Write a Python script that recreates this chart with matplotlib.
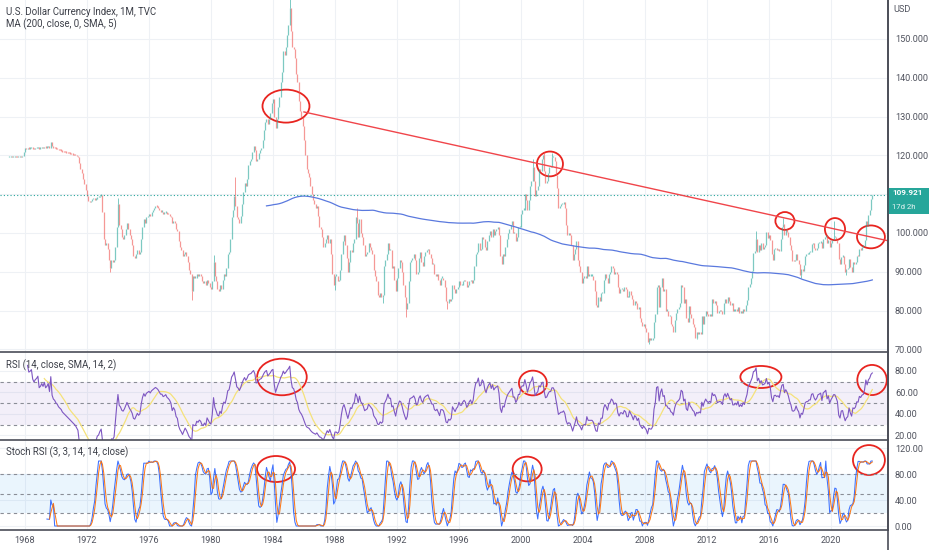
# coding: utf-8
# U.S. Dollar Currency Index (DXY) monthly chart with MA200, RSI and Stoch RSI panels
import numpy as np
import pandas as pd
import matplotlib
matplotlib.use("Agg")
import matplotlib.pyplot as plt
from matplotlib.patches import Ellipse, Rectangle
from matplotlib.ticker import StrMethodFormatter

plt.rcParams['font.family'] = ['Roboto', 'DejaVu Sans']

# ================= data =================
START_YEAR = 1967  # first candle: Jan 1967, one close per month
CLOSES = [
    119.6, 119.6, 119.5, 119.6, 119.7, 119.6, 119.5, 119.6, 119.7, 119.6, 119.8, 121.0,  # 1967
    121.8, 121.6, 121.9, 121.7, 121.8, 122.0, 121.7, 121.6, 121.8, 121.9, 122.1, 121.7,  # 1968
    121.8, 122.0, 121.9, 122.2, 122.0, 122.1, 122.3, 122.0, 123.4, 122.3, 122.0, 121.9,  # 1969
    121.7, 121.6, 121.4, 121.3, 121.2, 121.0, 120.9, 120.8, 120.7, 120.6, 120.5, 120.4,  # 1970
    120.3, 120.2, 120.1, 120.0, 119.8, 119.6, 118.0, 116.5, 115.5, 114.0, 112.5, 111.0,  # 1971
    109.5, 108.2, 108.0, 108.3, 108.7, 109.0, 108.6, 108.8, 109.2, 109.3, 109.6, 109.8,  # 1972
    105.5, 98.5, 97.0, 97.5, 96.0, 93.0, 91.0, 93.0, 92.5, 93.0, 96.5, 101.5,  # 1973
    107.5, 102.0, 101.0, 99.0, 98.5, 99.5, 101.0, 102.5, 101.0, 99.5, 98.5, 97.0,  # 1974
    94.0, 93.5, 94.5, 95.5, 94.5, 95.0, 98.5, 101.5, 103.5, 102.5, 104.0, 104.5,  # 1975
    105.0, 104.5, 105.5, 106.0, 106.5, 107.0, 106.8, 106.5, 106.0, 105.5, 105.5, 105.0,  # 1976
    105.2, 105.5, 105.0, 104.8, 104.5, 104.0, 102.5, 103.0, 102.5, 101.0, 100.5, 98.0,  # 1977
    96.5, 95.5, 94.0, 94.5, 95.0, 94.0, 92.5, 90.5, 89.5, 85.0, 89.0, 88.5,  # 1978
    88.5, 89.5, 89.0, 89.5, 89.0, 87.5, 87.0, 87.5, 86.5, 88.0, 87.0, 86.0,  # 1979
    85.5, 87.5, 92.5, 89.0, 87.5, 85.5, 85.0, 86.5, 85.5, 88.0, 89.5, 89.0,  # 1980
    91.0, 94.5, 95.0, 98.5, 104.0, 106.0, 109.5, 107.0, 104.0, 103.5, 102.5, 104.5,  # 1981
    107.5, 110.5, 113.0, 112.0, 114.0, 117.5, 118.5, 119.0, 121.0, 122.5, 121.5, 118.5,  # 1982
    119.0, 120.5, 121.5, 122.0, 124.0, 126.5, 128.5, 129.5, 128.0, 129.5, 131.0, 133.5,  # 1983
    134.5, 130.0, 127.0, 129.5, 132.5, 135.0, 139.0, 141.5, 147.0, 146.0, 148.0, 151.0,  # 1984
    153.5, 158.0, 152.0, 148.0, 147.5, 145.0, 141.0, 139.0, 134.0, 131.5, 130.0, 127.5,  # 1985
    124.0, 120.0, 116.5, 115.5, 114.5, 112.0, 110.0, 108.5, 107.5, 106.5, 107.0, 104.5,  # 1986
    101.5, 101.0, 99.0, 96.5, 97.5, 98.5, 99.5, 97.5, 98.5, 94.5, 89.5, 86.5,  # 1987
    89.0, 89.0, 87.5, 88.0, 90.5, 94.5, 98.0, 99.5, 97.0, 93.5, 90.0, 92.5,  # 1988
    95.5, 95.0, 97.5, 98.5, 104.0, 102.5, 99.0, 103.5, 100.0, 99.0, 97.0, 94.0,  # 1989
    94.5, 95.0, 97.5, 96.5, 95.5, 94.5, 90.5, 89.0, 87.5, 84.0, 83.5, 84.5,  # 1990
    83.5, 84.0, 91.5, 93.0, 94.5, 97.5, 95.5, 95.5, 91.0, 91.5, 88.0, 85.0,  # 1991
    88.5, 91.0, 93.0, 92.5, 90.0, 86.5, 83.5, 80.5, 82.0, 87.5, 92.5, 93.0,  # 1992
    93.5, 94.5, 93.0, 89.5, 90.0, 93.5, 95.0, 92.5, 91.5, 94.0, 95.0, 95.5,  # 1993
    96.0, 94.5, 93.5, 92.0, 92.0, 89.5, 89.0, 89.5, 88.0, 86.5, 88.5, 88.5,  # 1994
    88.0, 86.0, 82.5, 82.0, 83.0, 82.5, 83.0, 86.5, 85.5, 84.5, 85.5, 86.0,  # 1995
    87.5, 86.5, 86.5, 87.5, 88.0, 87.5, 86.0, 86.5, 87.5, 88.0, 87.0, 88.0,  # 1996
    91.5, 94.5, 95.0, 97.5, 95.5, 96.0, 99.0, 98.5, 96.5, 95.5, 98.0, 99.5,  # 1997
    100.5, 99.0, 101.0, 99.5, 100.5, 101.0, 101.5, 99.5, 94.0, 92.0, 94.5, 94.0,  # 1998
    96.5, 98.5, 100.0, 101.0, 102.0, 103.0, 100.0, 100.0, 98.0, 99.0, 101.5, 101.5,  # 1999
    105.0, 106.0, 106.0, 110.0, 108.5, 106.0, 108.5, 112.0, 113.5, 117.0, 113.5, 109.5,  # 2000
    111.0, 112.0, 116.5, 116.0, 119.0, 120.0, 116.0, 113.0, 113.5, 115.5, 117.0, 117.0,  # 2001
    119.5, 119.5, 118.5, 115.0, 111.5, 106.5, 107.0, 107.5, 107.5, 108.0, 106.5, 102.0,  # 2002
    99.5, 100.0, 99.5, 97.0, 93.0, 94.5, 96.0, 98.0, 93.0, 91.5, 90.0, 87.0,  # 2003
    88.5, 89.0, 88.5, 91.5, 89.0, 89.0, 89.0, 89.0, 88.0, 85.0, 81.5, 81.0,  # 2004
    83.5, 82.5, 84.5, 84.5, 88.0, 89.5, 88.5, 87.0, 89.5, 90.0, 91.5, 91.0,  # 2005
    89.5, 90.0, 89.5, 86.0, 84.5, 85.5, 85.5, 85.0, 86.0, 85.5, 83.5, 83.5,  # 2006
    85.0, 84.0, 83.0, 81.5, 82.5, 82.0, 80.5, 81.0, 78.0, 77.0, 76.0, 76.5,  # 2007
    75.5, 74.5, 71.8, 73.0, 72.5, 72.5, 73.0, 77.0, 79.0, 86.0, 86.5, 81.0,  # 2008
    86.0, 88.5, 85.0, 85.5, 80.0, 80.0, 78.5, 78.5, 76.5, 76.0, 74.5, 77.5,  # 2009
    79.5, 80.5, 81.0, 82.0, 86.5, 86.0, 82.0, 83.0, 78.0, 77.0, 81.2, 79.0,  # 2010
    78.0, 76.5, 75.8, 73.0, 74.5, 74.0, 74.5, 74.0, 78.5, 76.5, 78.5, 80.0,  # 2011
    79.0, 78.5, 79.0, 78.5, 83.0, 82.0, 82.5, 81.5, 79.5, 79.8, 80.0, 79.8,  # 2012
    79.0, 82.0, 83.0, 82.0, 83.5, 82.5, 81.5, 82.0, 80.0, 80.0, 80.5, 80.0,  # 2013
    81.0, 79.5, 80.0, 79.5, 80.5, 80.0, 81.5, 82.8, 86.0, 86.8, 88.4, 90.3,  # 2014
    94.8, 95.3, 98.4, 95.0, 97.0, 95.5, 97.3, 96.0, 96.3, 97.0, 100.2, 98.6,  # 2015
    99.6, 98.2, 94.6, 93.0, 95.9, 96.1, 95.6, 96.0, 95.4, 98.5, 101.5, 102.2,  # 2016
    99.5, 101.1, 100.3, 99.0, 97.0, 95.6, 92.9, 92.7, 93.1, 94.5, 93.0, 92.1,  # 2017
    89.1, 90.6, 90.1, 91.8, 94.0, 94.5, 94.5, 95.1, 95.1, 97.1, 97.3, 96.2,  # 2018
    95.6, 96.2, 97.3, 97.5, 97.8, 96.1, 98.5, 98.9, 99.4, 97.4, 98.3, 96.4,  # 2019
    97.4, 98.1, 99.0, 99.0, 98.3, 97.4, 93.3, 92.1, 93.9, 94.0, 91.9, 89.9,  # 2020
    90.6, 90.9, 93.2, 91.3, 90.0, 92.4, 92.1, 92.6, 94.2, 94.1, 96.0, 95.7,  # 2021
    96.5, 96.7, 98.3, 103.0, 101.8, 104.7, 105.9, 108.7, 109.9,  # 2022
]
# visible wick extremes (year, month, price)
WICK_HIGHS = [(1974, 1, 109.0), (1980, 3, 94.3), (1981, 8, 114.5), (1985, 2, 165.0),
              (1989, 6, 106.5), (2000, 10, 119.0), (2001, 7, 121.0), (2002, 1, 120.5),
              (2015, 3, 100.4), (2016, 12, 103.8), (2020, 3, 103.0)]
WICK_LOWS = [(1973, 7, 90.0), (1978, 10, 82.7), (1988, 1, 85.3), (1991, 2, 82.0),
             (1992, 8, 78.4), (1995, 4, 80.3), (2008, 4, 71.3), (2011, 5, 72.7),
             (2018, 2, 88.3), (2021, 1, 89.2)]
LAST_PRICE = 109.921
COUNTDOWN = "17d 2h"
TICK_YEARS = list(range(1968, 2021, 4))
PRICE_TICKS = list(range(70, 151, 10))
RSI_TICKS = [20, 40, 60, 80]
STOCH_TICKS = [0, 40, 80, 120]

# ================= indicators =================
close = np.array(CLOSES)
t = START_YEAR + np.arange(len(close)) / 12.0
openp = np.r_[close[0], close[:-1]]
s = pd.Series(close)

ma200 = s.rolling(200).mean()

delta = s.diff()
gain = delta.clip(lower=0).ewm(alpha=1 / 14, adjust=False).mean()
loss = (-delta.clip(upper=0)).ewm(alpha=1 / 14, adjust=False).mean()
rsi = 100 - 100 / (1 + gain / loss)
rsi.iloc[:14] = np.nan
rsi_ma = rsi.rolling(14).mean()

rsi_lo = rsi.rolling(14).min()
rsi_hi = rsi.rolling(14).max()
stoch = 100 * (rsi - rsi_lo) / (rsi_hi - rsi_lo)
k_line = stoch.rolling(3).mean()
d_line = k_line.rolling(3).mean()

# ================= figure =================
W, H = 932, 550
fig = plt.figure(figsize=(W / 100, H / 100), dpi=100)
fig.patch.set_facecolor('white')


def panel(top, bottom, **kw):
    return fig.add_axes([0, 1 - bottom / H, 888 / W, (bottom - top) / H], **kw)


ax = panel(0, 352)
ax_rsi = panel(353, 440, sharex=ax)
ax_st = panel(441, 530, sharex=ax)

TXT = '#50535e'
GRID = '#eef1f5'
EDGE = '#4a4d57'
UP, DOWN = '#26a69a', '#ef5350'

for a in (ax, ax_rsi, ax_st):
    a.set_facecolor('white')
    for side in ('top', 'left'):
        a.spines[side].set_visible(False)
    for side in ('right', 'bottom'):
        a.spines[side].set_color(EDGE)
        a.spines[side].set_linewidth(1.2)
    a.yaxis.tick_right()
    a.tick_params(axis='y', length=0, pad=5, labelsize=6.6, labelcolor=TXT)
    a.tick_params(axis='x', length=0, labelbottom=False)
    a.grid(True, color=GRID, lw=0.8)
    a.set_axisbelow(True)

ax.set_xlim(1966.39, 2023.68)
ax.set_xticks(TICK_YEARS)

# ---- price panel ----
body_lo = np.minimum(openp, close)
body_hi = np.maximum(np.maximum(openp, close), body_lo + 0.35)
up = close >= openp
CANDLE_ALPHA = 0.6
ax.vlines(t[up], body_lo[up], body_hi[up], color=UP, lw=0.9, alpha=CANDLE_ALPHA)
ax.vlines(t[~up], body_lo[~up], body_hi[~up], color=DOWN, lw=0.9, alpha=CANDLE_ALPHA)
for yr, mo, val in WICK_HIGHS:
    i = (yr - START_YEAR) * 12 + mo - 1
    ax.vlines(t[i], body_hi[i], val, color=UP if up[i] else DOWN, lw=0.7, alpha=CANDLE_ALPHA)
for yr, mo, val in WICK_LOWS:
    i = (yr - START_YEAR) * 12 + mo - 1
    ax.vlines(t[i], val, body_lo[i], color=UP if up[i] else DOWN, lw=0.7, alpha=CANDLE_ALPHA)

ax.plot(t, ma200, color='#5a79de', lw=0.9)
ax.axhline(LAST_PRICE, color=UP, ls=(0, (1, 2)), lw=0.8)

ax.set_ylim(69.33, 160.05)
ax.set_yticks(PRICE_TICKS)
ax.yaxis.set_major_formatter(StrMethodFormatter('{x:.3f}'))

# hand drawn trend line and circles
RED = '#e8241f'
ax.plot([1986.0, 2023.68], [131.2, 98.0], color='#f0454a', lw=1.0)
for cx, cy, w, h in [(1984.84, 132.7, 3.03, 8.5), (2001.87, 117.8, 1.68, 6.4),
                     (2017.03, 103.1, 1.23, 4.6), (2020.26, 101.0, 1.3, 5.7),
                     (2022.58, 99.0, 1.8, 5.9)]:
    ax.add_patch(Ellipse((cx, cy), w, h, fill=False, ec=RED, lw=1.3, clip_on=False))

# last price badge with bar countdown
ytr = ax.get_yaxis_transform()
ax.add_patch(Rectangle((0.999, 105.0), 0.047, 6.6, transform=ytr, fc=UP, ec='none',
                       clip_on=False, zorder=5))
ax.text(1.005, LAST_PRICE + 0.6, f"{LAST_PRICE:.3f}", transform=ytr, ha='left',
        va='center', color='white', fontsize=5.9, fontweight='bold', zorder=6)
ax.text(1.005, LAST_PRICE - 3.2, COUNTDOWN, transform=ytr, ha='left', va='center',
        color='#e6f5f3', fontsize=5.6, zorder=6)
fig.text(893 / W, 1 - 10 / H, "USD", ha='left', va='center', fontsize=6.6, color=TXT)

ax.text(0.007, 0.966, "U.S. Dollar Currency Index, 1M, TVC", transform=ax.transAxes,
        ha='left', va='center', fontsize=6.9, color='#3c3f48')
ax.text(0.007, 0.932, "MA (200, close, 0, SMA, 5)", transform=ax.transAxes,
        ha='left', va='center', fontsize=6.9, color='#3c3f48')

# ---- RSI panel ----
ax_rsi.axhspan(30, 70, color='#7e57c2', alpha=0.09, lw=0)
for lvl in (70, 50, 30):
    ax_rsi.axhline(lvl, color='#8a8d96', ls=(0, (3, 3)), lw=0.8)
ax_rsi.plot(t, rsi_ma, color='#f5e27a', lw=0.9)
ax_rsi.plot(t, rsi, color='#7e57c2', lw=0.8)
ax_rsi.set_ylim(15.8, 96.7)
ax_rsi.set_yticks(RSI_TICKS)
ax_rsi.yaxis.set_major_formatter(StrMethodFormatter('{x:.2f}'))
ax_rsi.text(0.007, 0.862, "RSI (14, close, SMA, 14, 2)", transform=ax_rsi.transAxes,
            ha='left', va='center', fontsize=6.9, color='#3c3f48')
for cx, cy, w, h in [(1984.58, 74.4, 3.2, 34), (2000.77, 68.8, 1.8, 23),
                     (2015.48, 74.4, 2.65, 20.5), (2022.65, 71.6, 1.9, 28)]:
    ax_rsi.add_patch(Ellipse((cx, cy), w, h, fill=False, ec=RED, lw=1.3, clip_on=False))

# ---- Stoch RSI panel ----
ax_st.axhspan(20, 80, color='#2196f3', alpha=0.09, lw=0)
for lvl in (80, 50, 20):
    ax_st.axhline(lvl, color='#8a8d96', ls=(0, (3, 3)), lw=0.8)
ax_st.plot(t, k_line, color='#2962ff', lw=0.75, alpha=0.9)
ax_st.plot(t, d_line, color='#ff6d00', lw=0.75, alpha=0.9)
ax_st.set_ylim(-6.15, 130.8)
ax_st.set_yticks(STOCH_TICKS)
ax_st.yaxis.set_major_formatter(StrMethodFormatter('{x:.2f}'))
ax_st.text(0.007, 0.869, "Stoch RSI (3, 3, 14, 14, close)", transform=ax_st.transAxes,
           ha='left', va='center', fontsize=6.9, color='#3c3f48')
for cx, cy, w, h in [(1984.2, 87.7, 2.45, 40), (2000.4, 87.7, 1.87, 38),
                     (2022.45, 101.5, 2.06, 46)]:
    ax_st.add_patch(Ellipse((cx, cy), w, h, fill=False, ec=RED, lw=1.3, clip_on=False))

ax_st.tick_params(axis='x', labelbottom=True, pad=4, labelsize=6.6, labelcolor=TXT)
ax_st.set_xticklabels([str(y) for y in TICK_YEARS])

# right axis separator down to the bottom edge
fig.add_artist(plt.Line2D([888 / W, 888 / W], [0, 1], transform=fig.transFigure,
                          color=EDGE, lw=1.2))

fig.savefig("out.png", dpi=100)
